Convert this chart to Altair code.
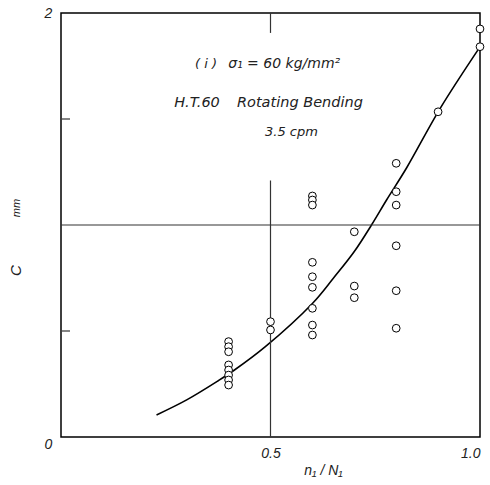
import altair as alt
import pandas as pd

# scatter data (n1/N1, C mm)
pt_x = [0.4]*8 + [0.5]*2 + [0.6]*9 + [0.7]*3 + [0.8]*6 + [0.9] + [1.0]*2
pt_y = [0.450, 0.426, 0.402, 0.340, 0.316, 0.292, 0.269, 0.245,
        0.544, 0.505,
        1.137, 1.118, 1.094, 0.824, 0.756, 0.706, 0.607, 0.528, 0.481,
        0.968, 0.712, 0.657,
        1.291, 1.157, 1.094, 0.902, 0.690, 0.513,
        1.534,
        1.925, 1.841]

# fitted curve
cx = [0.228, 0.30, 0.375, 0.414, 0.487, 0.60, 0.65, 0.70, 0.741, 0.777, 0.825, 0.905, 1.0]
cy = [0.104, 0.175, 0.265, 0.316, 0.425, 0.63, 0.749, 0.875, 1.0, 1.118, 1.27, 1.55, 1.84]

x_ticks = [0.5, 1.0]
y_ticks = [0, 1, 2]
minor_y = [0.5, 1.5]

ann_x = [0.399, 0.27, 0.42, 0.487]
ann_y = [1.76, 1.575, 1.575, 1.439]
ann_t = ["\u03c3\u2081 = 60 kg/mm\u00b2", "H.T.60", "Rotating Bending", "3.5 cpm"]
ann_s = [14, 14.5, 14.5, 13]

FONT = "Liberation Sans"
AFONT = "DejaVu Sans"
INK = "#222222"

pts = pd.DataFrame({"x": pt_x, "y": pt_y})
curve = pd.DataFrame({"x": cx, "y": cy})

xs = alt.Scale(domain=[0, 1], nice=False, zero=False)
ys = alt.Scale(domain=[0, 2], nice=False, zero=False)

base_x = alt.X("x:Q", scale=xs, axis=alt.Axis(
    values=x_ticks, format=".1f", grid=False, ticks=False, tickSize=0, domain=False,
    labelFont=FONT, labelFontSize=14, labelFontStyle="italic", labelColor=INK,
    labelBaseline="middle", labelPadding=16,
    title="n\u2081 / N\u2081", titleFont=FONT, titleFontSize=14, titleFontStyle="italic",
    titleFontWeight="normal", titleColor=INK, titleX=262, titleY=33,
    titleBaseline="middle", titleAlign="center"))
base_y = alt.Y("y:Q", scale=ys, axis=alt.Axis(
    values=y_ticks, format="d", grid=False, ticks=False, tickSize=0, domain=False,
    labelFont=FONT, labelFontSize=14, labelFontStyle="italic", labelColor=INK,
    labelAlign="center", labelPadding=13,
    labelBaseline={"condition": {"test": "datum.value == 0", "value": "top"}, "value": "middle"},
    title="C", titleFont=FONT, titleFontSize=15, titleFontStyle="italic",
    titleFontWeight="normal", titleColor=INK, titleAngle=270, titleX=-46, titleY=257,
    titleBaseline="middle", titleAlign="center"))

line = alt.Chart(curve).mark_line(color="black", strokeWidth=1.6, interpolate="catmull-rom").encode(
    x=base_x, y=base_y)

circles = alt.Chart(pts).mark_point(shape="circle", size=60, filled=False, fill="white",
                                    fillOpacity=1, stroke="black", strokeWidth=1,
                                    opacity=1).encode(x="x:Q", y="y:Q")

# grid lines
hgrid = alt.Chart(pd.DataFrame({"y": [1.0]})).mark_rule(color="#333", strokeWidth=1.2).encode(
    y="y:Q", x=alt.value(0), x2=alt.value(419))
vseg = pd.DataFrame({"x": [0.5, 0.5], "y": [0.0, 1.906], "y2": [1.21, 2.0]})
vgrid = alt.Chart(vseg).mark_rule(color="#333", strokeWidth=1.2).encode(
    x="x:Q", y="y:Q", y2="y2:Q")
minor = alt.Chart(pd.DataFrame({"y": minor_y})).mark_rule(color="#333", strokeWidth=1.2).encode(
    y="y:Q", x=alt.value(1), x2=alt.value(9))

# annotations
texts = alt.Chart(pd.DataFrame({"x": ann_x, "y": ann_y, "t": ann_t, "s": ann_s})).mark_text(
    font=AFONT, fontStyle="italic", color=INK, baseline="middle", align="left").encode(
    x="x:Q", y="y:Q", text="t:N", size=alt.Size("s:Q", scale=None, legend=None))
label_i = alt.Chart(pd.DataFrame({"x": [0.346], "y": [1.76], "t": ["( i )"]})).mark_text(
    font=AFONT, fontSize=13, fontStyle="italic", color=INK, baseline="middle", align="center").encode(
    x="x:Q", y="y:Q", text="t:N")

mm = alt.Chart(pd.DataFrame({"t": ["mm"]})).mark_text(
    font=FONT, fontSize=11, fontStyle="italic", color=INK, angle=270, baseline="middle").encode(
    text="t:N", x=alt.value(-44), y=alt.value(195))

chart = alt.layer(line, hgrid, vgrid, minor, circles, texts, label_i, mm).properties(
    width=419, height=424,
    autosize=alt.AutoSizeParams(type="none"),
    padding={"left": 61, "top": 13, "right": 10, "bottom": 48},
    background="white",
).configure_view(stroke="black", strokeWidth=1.5)

chart.save("out.html", embed_options={"renderer": "svg", "actions": False})
